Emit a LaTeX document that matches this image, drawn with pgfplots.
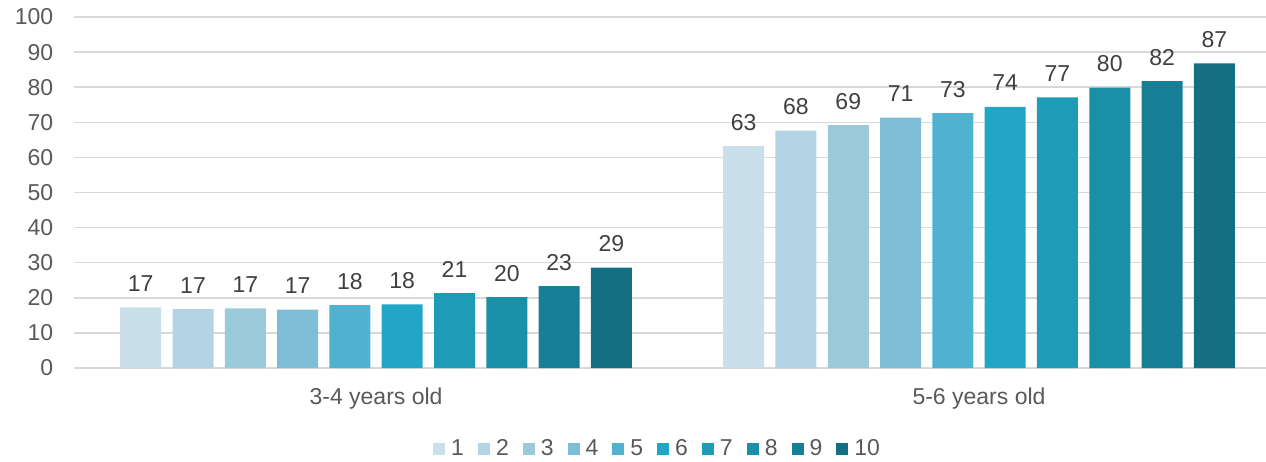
\documentclass[border=0pt]{standalone}
\usepackage{pgfplots}
\usepackage{pgfplotstable}
\pgfplotsset{compat=1.18}
\usepackage{fontspec}
\setmainfont{Liberation Sans}
\definecolor{c1}{HTML}{C9E0EA}
\definecolor{c2}{HTML}{B3D4E4}
\definecolor{c3}{HTML}{9ACAD9}
\definecolor{c4}{HTML}{7DBDD5}
\definecolor{c5}{HTML}{50B2CF}
\definecolor{c6}{HTML}{21A6C5}
\definecolor{c7}{HTML}{1E9CB7}
\definecolor{c8}{HTML}{1A8FA8}
\definecolor{c9}{HTML}{177F95}
\definecolor{c10}{HTML}{146F83}
\definecolor{ticktext}{HTML}{595959}
\definecolor{labtext}{HTML}{404040}
\definecolor{gridc}{HTML}{D9D9D9}
\pgfplotstableread{
x s1 s2 s3 s4 s5 s6 s7 s8 s9 s10
0 17.3 16.8 17.0 16.6 17.9 18.1 21.3 20.2 23.3 28.6
1 63.2 67.6 69.2 71.3 72.6 74.4 77.1 79.9 81.7 86.8
}\datatable
\begin{document}
\fontsize{23bp}{27bp}\selectfont
\begin{tikzpicture}
\begin{axis}[
  scale only axis,
  width=1192bp, height=351bp,
  xmin=-0.501, xmax=1.476,
  ymin=0, ymax=100,
  ytick={0,10,...,100},
  xtick={0,1},
  xticklabels={3-4 years old,5-6 years old},
  major tick length=0pt,
  axis line style={draw=none},
  ymajorgrids,
  grid style={gridc, line width=1.5bp},
  tick label style={font=\fontsize{23bp}{27bp}\selectfont, text=ticktext},
  /pgf/number format/assume math mode=true,
  yticklabel style={xshift=-13bp},
  xticklabel style={yshift=-12bp},
  ybar=11.3bp,
  bar width=41bp,
  nodes near coords,
  nodes near coords style={font=\fontsize{23bp}{27bp}\selectfont, text=labtext, yshift=8bp, /pgf/number format/.cd, fixed, precision=0, assume math mode=true},
  legend columns=10,
  legend style={at={(0.49,-0.232)}, anchor=center, draw=none, fill=none,
    font=\fontsize{23bp}{27bp}\selectfont, text=ticktext,
    column sep=3bp, nodes={inner xsep=3bp, inner ysep=0pt},
    /tikz/every even column/.append style={column sep=11bp}},
  legend image code/.code={\fill[#1] (0bp,-6bp) rectangle (12bp,6bp);},
  clip=false,
]
\addplot[fill=c1, draw=none] table[x=x, y=s1] {\datatable};
\addplot[fill=c2, draw=none] table[x=x, y=s2] {\datatable};
\addplot[fill=c3, draw=none] table[x=x, y=s3] {\datatable};
\addplot[fill=c4, draw=none] table[x=x, y=s4] {\datatable};
\addplot[fill=c5, draw=none] table[x=x, y=s5] {\datatable};
\addplot[fill=c6, draw=none] table[x=x, y=s6] {\datatable};
\addplot[fill=c7, draw=none] table[x=x, y=s7] {\datatable};
\addplot[fill=c8, draw=none] table[x=x, y=s8] {\datatable};
\addplot[fill=c9, draw=none] table[x=x, y=s9] {\datatable};
\addplot[fill=c10, draw=none] table[x=x, y=s10] {\datatable};
\legend{1,2,3,4,5,6,7,8,9,10}
\end{axis}
\pgfresetboundingbox
\path ([xshift=-74bp,yshift=-94bp]current axis.south west) rectangle ([yshift=17bp]current axis.north east);
\end{tikzpicture}
\end{document}
